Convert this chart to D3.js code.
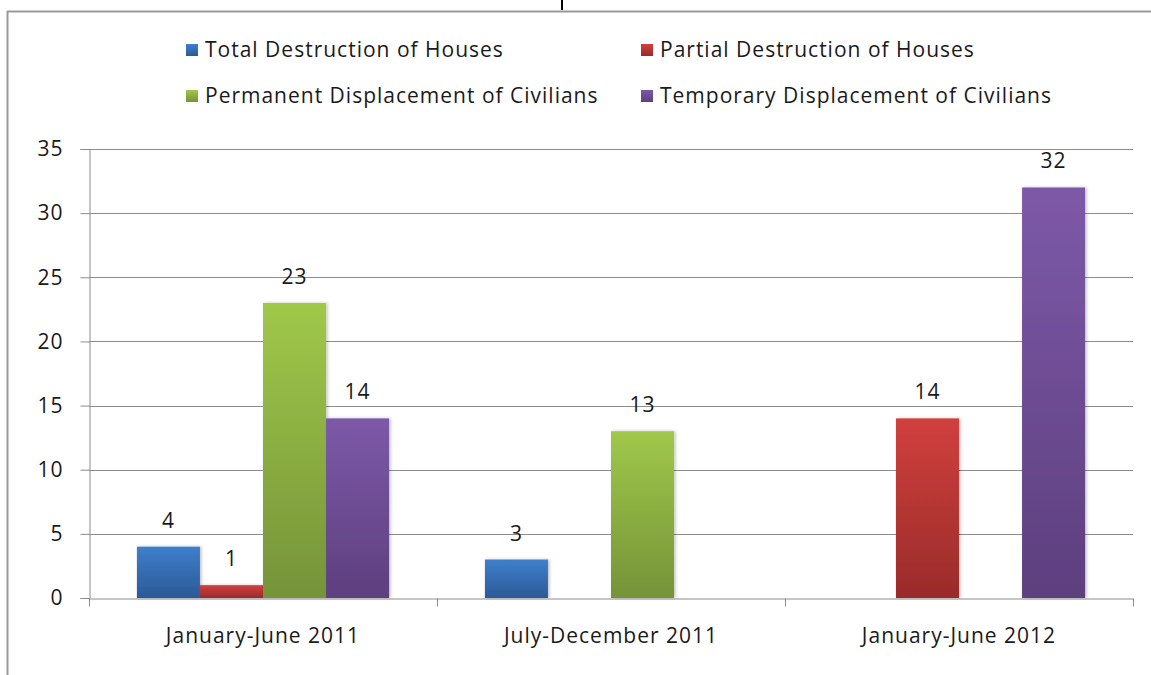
<!DOCTYPE html>
<html>
<head>
<meta charset="utf-8">
<script src="https://cdn.jsdelivr.net/npm/d3@7"></script>
<style>
  body { margin: 0; background: #fff; }
  text { font-family: "Open Sans", sans-serif; fill: #1a1a1a; letter-spacing: 1px; }
</style>
</head>
<body>
<script>
var categories = ['January-June 2011', 'July-December 2011', 'January-June 2012'];
var seriesNames = ['Total Destruction of Houses', 'Partial Destruction of Houses',
  'Permanent Displacement of Civilians', 'Temporary Displacement of Civilians'];
// null = no bar drawn
var totalDestruction = [4, 3, null];
var partialDestruction = [1, null, 14];
var permanentDisplacement = [23, 13, null];
var temporaryDisplacement = [14, null, 32];
var yTicks = [0, 5, 10, 15, 20, 25, 30, 35];

var colors = [
  ['#3f7fcc', '#2b5a96'],
  ['#d0403d', '#9a2b2b'],
  ['#a0c84a', '#759339'],
  ['#7d59a8', '#5d3f7e']
];

var W = 1151, H = 675;
var svg = d3.select('body').append('svg').attr('width', W).attr('height', H);

var defs = svg.append('defs');
colors.forEach(function (c, i) {
  var g = defs.append('linearGradient').attr('id', 'grad' + i)
    .attr('x1', 0).attr('y1', 0).attr('x2', 0).attr('y2', 1);
  g.append('stop').attr('offset', '0%').attr('stop-color', c[0]);
  g.append('stop').attr('offset', '100%').attr('stop-color', c[1]);
});
var shadow = defs.append('filter').attr('id', 'shadow')
  .attr('x', '-10%').attr('y', '-10%').attr('width', '130%').attr('height', '120%');
shadow.append('feDropShadow').attr('dx', 1.5).attr('dy', 0).attr('stdDeviation', 1.5)
  .attr('flood-color', '#000').attr('flood-opacity', 0.25);

// frame
svg.append('line').attr('x1', 7).attr('x2', W).attr('y1', 11.5).attr('y2', 11.5)
  .attr('stroke', '#999').attr('stroke-width', 2);
svg.append('line').attr('x1', 7.5).attr('x2', 7.5).attr('y1', 11).attr('y2', H)
  .attr('stroke', '#999').attr('stroke-width', 2);
svg.append('line').attr('x1', 562).attr('x2', 562).attr('y1', 0).attr('y2', 10)
  .attr('stroke', '#000').attr('stroke-width', 2);

var margin = { left: 89, right: 18, top: 149, bottom: 77 };
var x0 = d3.scaleBand().domain(categories).range([margin.left, W - margin.right])
  .paddingInner(0).paddingOuter(0);
var x1 = d3.scaleBand().domain(d3.range(seriesNames.length))
  .range([0, x0.bandwidth()]).paddingInner(0).paddingOuter(0.76);
var y = d3.scaleLinear().domain([0, 35]).range([H - margin.bottom, margin.top]);

// gridlines
svg.append('g').selectAll('line').data(yTicks.slice(1)).enter().append('line')
  .attr('x1', margin.left).attr('x2', W - margin.right)
  .attr('y1', function (d) { return Math.round(y(d)) + 0.5; })
  .attr('y2', function (d) { return Math.round(y(d)) + 0.5; })
  .attr('stroke', '#8c8c8c').attr('stroke-width', 1);

var fs = 21;

// y axis
var yAxis = d3.axisLeft(y).tickValues(yTicks).tickSize(9).tickPadding(17);
var gy = svg.append('g').attr('transform', 'translate(' + (margin.left + 0.5) + ',0)').call(yAxis);
gy.select('.domain').attr('stroke', '#8c8c8c');
gy.selectAll('.tick line').attr('stroke', '#8c8c8c');
gy.selectAll('.tick text').attr('font-size', fs).attr('fill', '#1a1a1a')
  .attr('font-family', '"Open Sans", sans-serif');

// bars
var series = [totalDestruction, partialDestruction, permanentDisplacement, temporaryDisplacement];
var barData = [];
categories.forEach(function (c, ci) {
  series.forEach(function (s, si) {
    if (s[ci] != null) barData.push({ cat: c, s: si, v: s[ci] });
  });
});

svg.append('g').selectAll('rect').data(barData).enter().append('rect')
  .attr('x', function (d) { return x0(d.cat) + x1(d.s); })
  .attr('y', function (d) { return y(d.v); })
  .attr('width', x1.bandwidth())
  .attr('height', function (d) { return y(0) - y(d.v); })
  .attr('fill', function (d) { return 'url(#grad' + d.s + ')'; })
  .attr('filter', 'url(#shadow)');

svg.append('g').selectAll('text').data(barData).enter().append('text')
  .attr('x', function (d) { return x0(d.cat) + x1(d.s) + x1.bandwidth() / 2; })
  .attr('y', function (d) { return y(d.v) - 19; })
  .attr('text-anchor', 'middle').attr('font-size', fs)
  .text(function (d) { return d.v; });

// x axis
var xAxis = d3.axisBottom(x0).tickSize(0).tickPadding(30);
var gx = svg.append('g').attr('transform', 'translate(0,' + (y(0) + 0.5) + ')').call(xAxis);
gx.select('.domain').attr('stroke', '#8c8c8c');
gx.selectAll('.tick text').attr('font-size', fs).attr('fill', '#1a1a1a')
  .attr('font-family', '"Open Sans", sans-serif');
var bounds = categories.map(function (c) { return x0(c); }).concat([x0.range()[1]]);
gx.selectAll('.bound').data(bounds).enter().append('line').attr('class', 'bound')
  .attr('x1', function (d) { return d + 0.5; }).attr('x2', function (d) { return d + 0.5; })
  .attr('y1', 0).attr('y2', 8).attr('stroke', '#8c8c8c');

// legend
var legendPos = [[186, 50], [641, 50], [186, 96], [641, 96]];
var lg = svg.append('g').selectAll('g').data(seriesNames).enter().append('g')
  .attr('transform', function (d, i) { return 'translate(' + legendPos[i][0] + ',' + legendPos[i][1] + ')'; });
lg.append('rect').attr('x', 0).attr('y', -6).attr('width', 12).attr('height', 12)
  .attr('fill', function (d, i) { return 'url(#grad' + i + ')'; });
lg.append('text').attr('x', 19).attr('y', 7).attr('font-size', fs)
  .text(function (d) { return d; });
</script>
</body>
</html>
